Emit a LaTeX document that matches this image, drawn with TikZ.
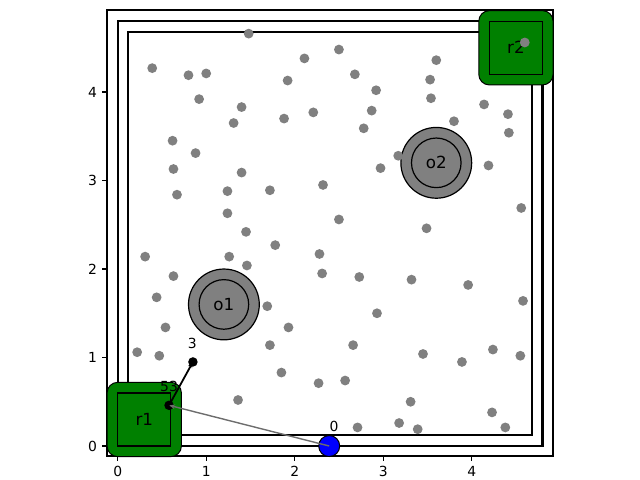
\documentclass[tikz,border=0pt]{standalone}
\usepackage{fontspec}
\setmainfont{DejaVu Sans}
\usepackage{xcolor}
\usepackage{tikz}
\usetikzlibrary{arrows.meta, positioning}
\definecolor{RobotGreen}{RGB}{0,128,0}
\definecolor{ObsGray}{RGB}{128,128,128}

\begin{document}
\begin{tikzpicture}[
    x=88.5pt, y=88.5pt,
    wall/.style={draw=black, line width=2.1pt},
    dot/.style={circle, fill=ObsGray, inner sep=0pt, minimum size=9.8pt},
    obstacle/.style={circle, draw=black, fill=ObsGray, line width=1.2pt, 
                  inner sep=0pt, minimum size=70.8pt},
    margin/.style={circle, draw=black, line width=1.2pt, inner sep=0pt, 
                  minimum size=49.6pt, font=\fontsize{16.7pt}{20pt}\selectfont},
    robot/.style={rectangle, draw=black, fill=RobotGreen, line width=1pt, 
                  rounded corners=10.6pt, minimum size=74.3pt, inner sep=0pt},
    footprint/.style={rectangle, draw=black, line width=1.2pt, minimum size=53.1pt, 
                  inner sep=0pt, font=\fontsize{16.7pt}{20pt}\selectfont},
    start/.style={circle, draw=black, fill=blue, line width=1pt, minimum size=21pt, inner sep=0pt},
    vertex/.style={circle, fill=black, inner sep=0pt, minimum size=9.5pt},
    idx/.style={inner sep=0pt, font=\fontsize{13.9pt}{16pt}\selectfont},
    ticklbl/.style={inner sep=0pt, font=\fontsize{13.9pt}{16pt}\selectfont},
    treeedge/.style={-{Stealth[length=6pt, width=4.5pt]}}
]
\useasboundingbox (-1.330,-0.384) rectangle (5.902,5.040);

% Axes frame and ticks
\draw[line width=1.1pt] (-0.121,-0.113) rectangle (4.919,4.927);
\foreach \t in {0,...,4} {
    \draw[line width=1.1pt] (\t,-0.113) -- ++(0,-4.9pt);
    \node[ticklbl, anchor=north] (xt\t) at ([yshift=-9.8pt]\t,-0.113) {\t};
    \draw[line width=1.1pt] (-0.121,\t) -- ++(-4.9pt,0);
    \node[ticklbl, anchor=east] (yt\t) at ([xshift=-9.8pt]-0.121,\t) {\t};
}

% Walls
\draw[wall] (0,0) rectangle (4.8,4.8);
\draw[wall] (0.12,0.12) rectangle (4.68,4.68);

% Robots
\node[robot] (r1box) at (0.3,0.3) {};
\node[footprint] (r1) at (0.3,0.3) {r1};
\node[robot] (r2box) at (4.5,4.5) {};
\node[footprint] (r2) at (4.5,4.5) {r2};

% Obstacles
\node[obstacle] (o1box) at (1.2,1.6) {};
\node[margin] (o1) at (1.2,1.6) {o1};
\node[obstacle] (o2box) at (3.6,3.2) {};
\node[margin] (o2) at (3.6,3.2) {o2};

% Samples
\foreach \x/\y [count=\i] in {1.48/4.66, 2.11/4.38, 0.39/4.27, 0.80/4.19, 1.00/4.21, 1.92/4.13,
    0.92/3.92, 1.40/3.83, 1.88/3.70, 2.21/3.77, 1.31/3.65, 0.62/3.45, 0.88/3.31, 0.63/3.13,
    1.40/3.09, 0.67/2.84, 1.24/2.88, 1.72/2.89, 2.32/2.95, 1.24/2.63, 1.45/2.42,
    2.50/4.48, 3.60/4.36, 2.68/4.20, 3.53/4.14, 2.92/4.02, 3.54/3.93, 2.87/3.79, 4.14/3.86,
    4.41/3.75, 2.78/3.59, 3.80/3.67, 4.42/3.54, 3.17/3.28, 2.97/3.14, 4.19/3.17, 4.56/2.69,
    2.50/2.56, 3.49/2.46, 4.60/4.56,
    1.78/2.27, 0.31/2.14, 1.26/2.14, 2.28/2.17, 1.46/2.04, 2.31/1.95, 0.63/1.92, 0.44/1.68,
    1.69/1.58, 1.93/1.34, 0.54/1.34, 1.72/1.14, 0.22/1.06, 0.47/1.02, 1.85/0.83, 2.27/0.71,
    1.36/0.52,
    2.73/1.91, 3.32/1.88, 3.96/1.82, 4.58/1.64, 2.93/1.50, 2.66/1.14, 3.45/1.04, 3.89/0.95,
    4.24/1.09, 4.55/1.02, 2.57/0.74, 3.31/0.50, 4.23/0.38, 2.71/0.21, 3.18/0.26, 3.39/0.19,
    4.38/0.21}
    \node[dot] (s\i) at (\x,\y) {};

% Tree
\node[start] (n0) at (2.39,0) {};
\node[vertex] (n53) at (0.58,0.46) {};
\node[vertex] (n3) at (0.85,0.95) {};
\draw[treeedge, line width=1.4pt, ObsGray!85!black] (n0.center) -- (n53.center);
\draw[treeedge, line width=1.8pt, black] (n53.center) -- (n3.center);

\node[idx] (l0) at (2.445,0.218) {0};
\node[idx] (l53) at (0.58,0.67) {53};
\node[idx] (l3) at (0.843,1.16) {3};

\end{tikzpicture}
\end{document}
